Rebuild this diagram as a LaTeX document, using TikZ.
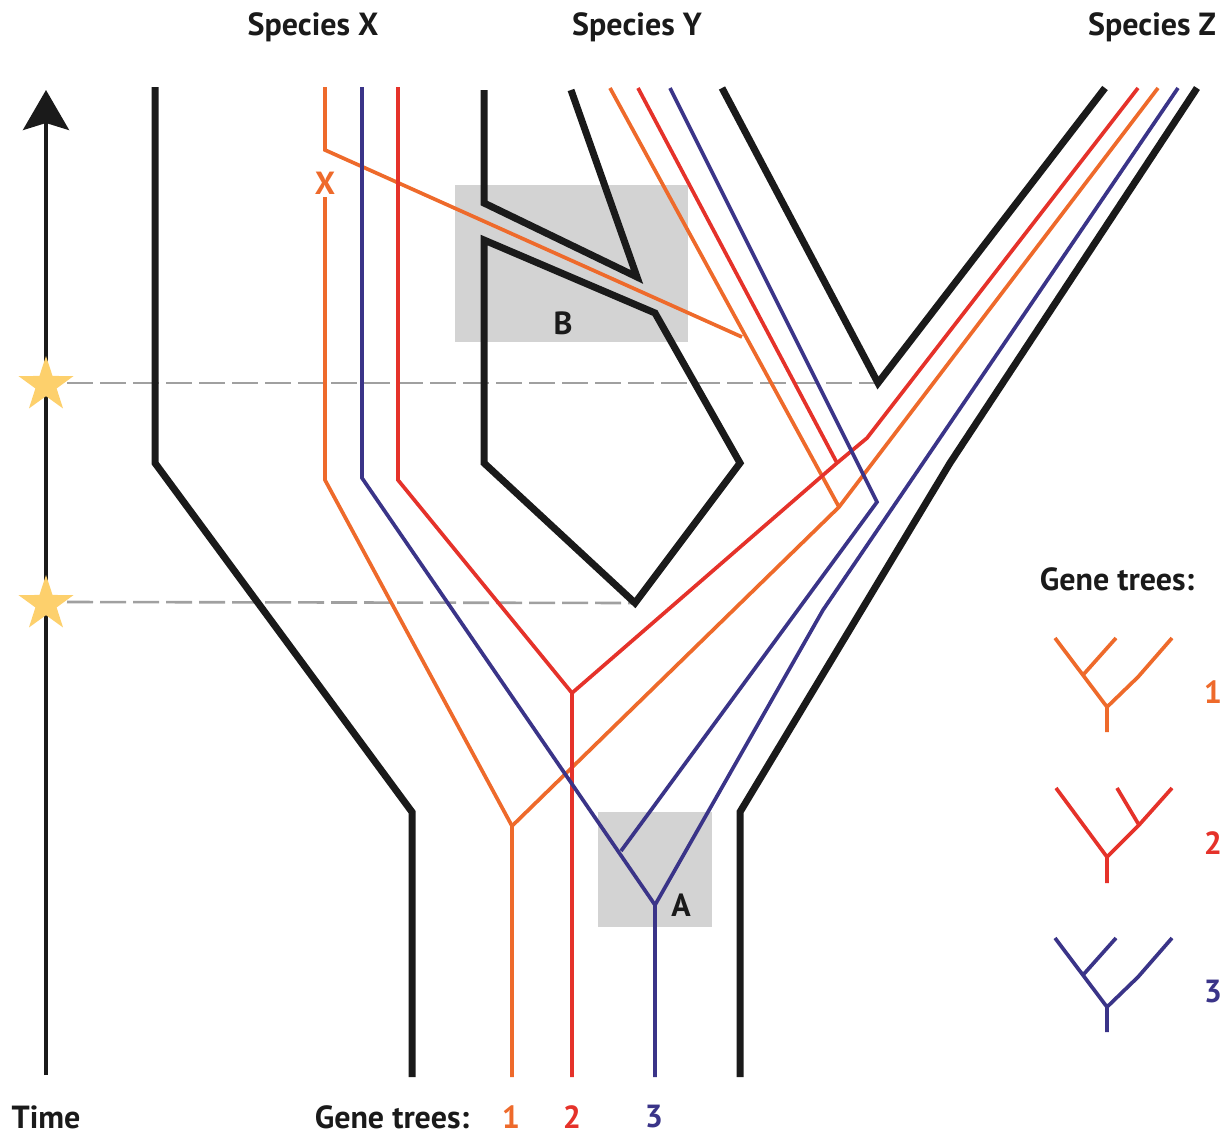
\documentclass[tikz,border=0pt]{standalone}
\usepackage{fontspec}
\setmainfont{PT Sans}
\usetikzlibrary{arrows.meta,shapes.geometric}

\definecolor{gOrange}{RGB}{238,106,43}
\definecolor{gRed}{RGB}{229,50,42}
\definecolor{gBlue}{RGB}{58,52,136}
\definecolor{spBlack}{RGB}{26,26,26}
\definecolor{boxGray}{RGB}{211,211,211}
\definecolor{guideGray}{RGB}{160,160,160}
\definecolor{starGold}{RGB}{253,208,108}

\begin{document}
\begin{tikzpicture}[x=1pt,y=-1pt,
  species/.style={draw=spBlack,line width=7pt,line join=miter},
  geneline/.style={line width=3.7pt,line join=miter},
  geneA/.style={geneline,draw=gOrange},
  geneB/.style={geneline,draw=gRed},
  geneC/.style={geneline,draw=gBlue},
  guide/.style={draw=guideGray,line width=2.6pt,dash pattern=on 26pt off 7pt},
  eventbox/.style={fill=boxGray},
  timeaxis/.style={draw=spBlack,line width=4pt},
  starmark/.style={star,star points=5,star point ratio=2.6,minimum size=58pt,
    inner sep=0pt,fill=starGold,draw=none},
  lbl/.style={font=\bfseries\fontsize{32}{38}\selectfont,inner sep=0pt,text=spBlack},
]
\useasboundingbox (0,0) rectangle (1230,1135);

% key points of the species tree
\coordinate (Zsplit) at (878,383);
\coordinate (Ybottom) at (635,603);

% highlighted events
\fill[eventbox] (455,185) rectangle (688,342);
\fill[eventbox] (598,812) rectangle (712,927);

% time slices of the two speciation events
\draw[guide] (67,383) -- (Zsplit);
\draw[guide] (67,602) -- (Ybottom);

% species tree outline
\draw[species] (155,87) -- (155,463) -- (412,812) -- (412,1077);
\draw[species] (484,90) -- (484,203) -- (637,277) -- (571,90);
\draw[species] (484,240) -- (655,313) -- (740,463) -- (Ybottom) -- (484,463) -- cycle;
\draw[species] (722,88) -- (Zsplit) -- (1105,88);
\draw[species] (1197,88) -- (950,463) -- (740,812) -- (740,1077);

% coalescence points of the gene lineages
\coordinate (oYZ) at (839,507);
\coordinate (oRoot) at (512,826);
\coordinate (rYZ) at (837,463);
\coordinate (rRoot) at (572,693);
\coordinate (bY) at (877,502);
\coordinate (bRoot) at (655,905);

% gene 1 (orange), with transfer from X into Y
\draw[geneA] (325,197) -- (325,480) -- (oRoot) -- (512,1077);
\draw[geneA] (325,87) -- (325,150) -- (742,337);
\draw[geneA] (610,88) -- (oYZ);
\draw[geneA] (1158,88) -- (oYZ) -- (oRoot);

% gene 2 (red)
\draw[geneB] (398,87) -- (398,480) -- (rRoot) -- (572,1077);
\draw[geneB] (638,88) -- (rYZ);
\draw[geneB] (1138,88) -- (867,438) -- (rYZ) -- (rRoot);

% gene 3 (blue)
\draw[geneC] (362,87) -- (362,478) -- (bRoot) -- (655,1077);
\draw[geneC] (670,88) -- (bY) -- (621,851);
\draw[geneC] (1178,88) -- (823,610) -- (bRoot);

% time axis
\draw[timeaxis,-{Stealth[length=40pt,width=46pt,inset=7pt]}] (46,1075) -- (46,90);
\node[starmark] (star1) at (46,385) {};
\node[starmark] (star2) at (46,604) {};

% labels
\node[lbl] (spX) at (313,27) {Species X};
\node[lbl] (spY) at (637,27) {Species Y};
\node[lbl] (spZ) at (1152,27) {Species Z};
\node[lbl,text=gOrange] (lost) at (325,183) {X};
\node[lbl] (labB) at (563,323) {B};
\node[lbl] (labA) at (681,905) {A};

\node[lbl] (time) at (46,1117) {Time};
\node[lbl] (gtBottom) at (392,1117) {Gene trees:};
\node[lbl,text=gOrange] (n1b) at (511,1117) {1};
\node[lbl,text=gRed] (n2b) at (572,1117) {2};
\node[lbl,text=gBlue] (n3b) at (654,1117) {3};

% legend of the three gene tree topologies
\node[lbl] (gtLegend) at (1117,579) {Gene trees:};

\draw[geneA] (1107,732) -- (1107,707) -- (1055,638);
\draw[geneA] (1083,675) -- (1116,638);
\draw[geneA] (1107,707) -- (1138,677) -- (1172,638);
\node[lbl,text=gOrange] (n1) at (1213,692) {1};

\draw[geneB] (1107,883) -- (1107,857) -- (1056,788);
\draw[geneB] (1107,857) -- (1139,825) -- (1172,788);
\draw[geneB] (1139,825) -- (1117,788);
\node[lbl,text=gRed] (n2) at (1213,843) {2};

\draw[geneC] (1107,1032) -- (1107,1007) -- (1055,938);
\draw[geneC] (1083,975) -- (1116,938);
\draw[geneC] (1107,1007) -- (1138,977) -- (1172,938);
\node[lbl,text=gBlue] (n3) at (1213,992) {3};
\end{tikzpicture}
\end{document}
